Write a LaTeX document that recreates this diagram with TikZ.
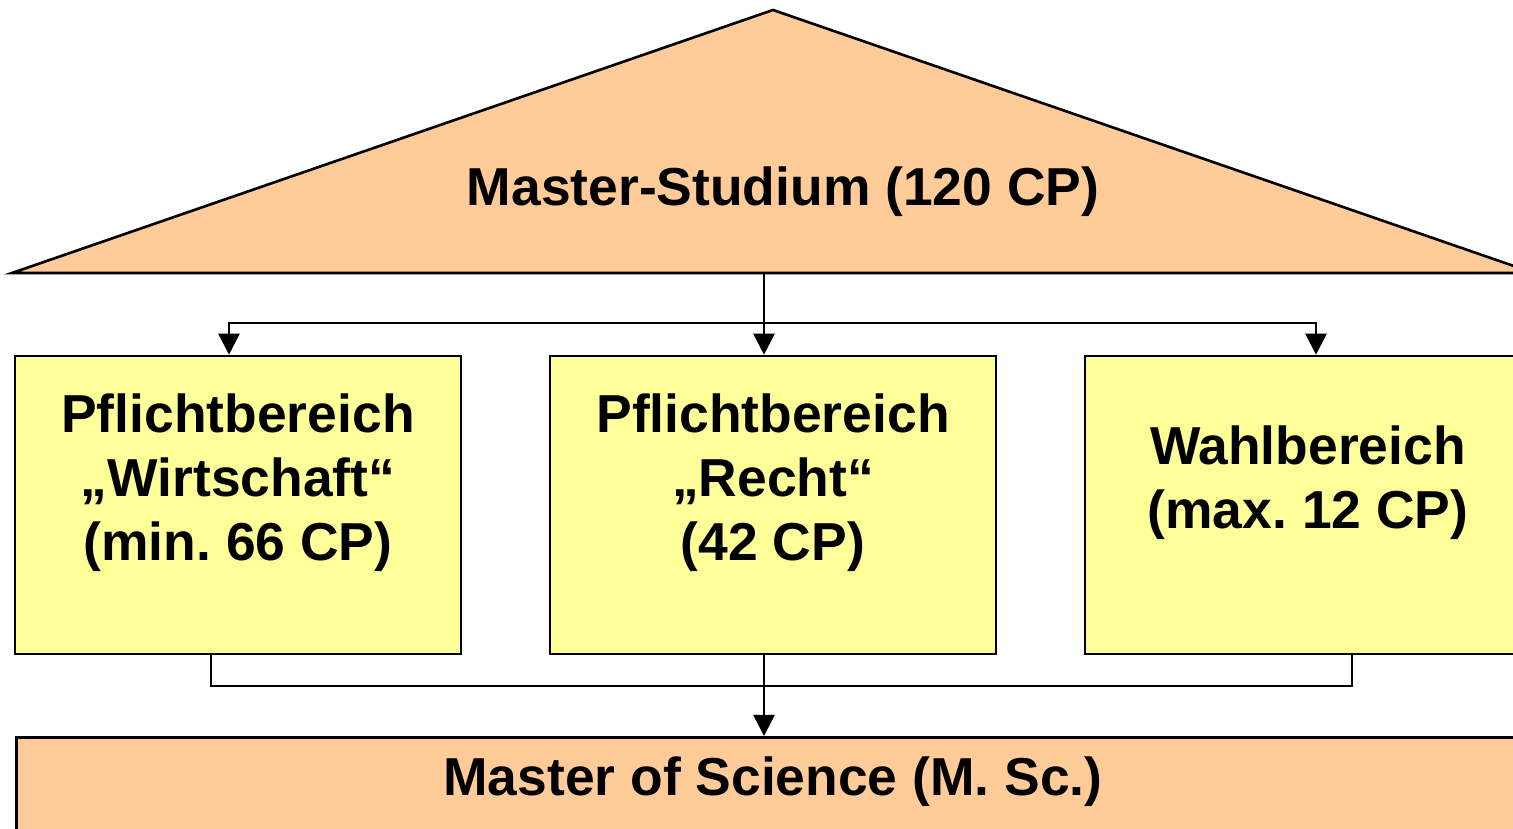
\documentclass[tikz,border=0pt]{standalone}
\usepackage{fontspec}
\setmainfont{Liberation Sans}
\usetikzlibrary{arrows.meta}
\definecolor{pfirsich}{HTML}{FFCC99}
\definecolor{hellgelb}{HTML}{FFFF99}
\tikzset{rahmen/.style={draw=black, line width=0.75pt},
  fachbox/.style={rahmen, fill=hellgelb, minimum width=4.46cm, minimum height=2.98cm, inner sep=0pt},
  beschrift/.style={align=center, font=\fontsize{15.2}{18.2}\selectfont\bfseries\frenchspacing, inner sep=0pt},
  pfeil/.style={line width=0.75pt, -{Triangle[length=6pt,width=6pt]}},
  linie/.style={line width=0.75pt}}

\begin{document}
\begin{tikzpicture}
  \useasboundingbox (0,0) rectangle (15.13,-8.29);
  \clip (0,0) rectangle (15.13,-8.29);
  % Dach
  \draw[rahmen, fill=pfirsich] (0.12,-2.73) -- (7.73,-0.10) -- (15.34,-2.73) -- cycle;
  \node[beschrift] (studium) at (7.83,-1.92) {Master-Studium (120 CP)};
  \coordinate (dach) at (7.64,-2.73);
  \coordinate (verteil) at (7.64,-3.23);
  % Bereiche
  \node[fachbox] (wirt) at ( 2.38,-5.05) {};
  \node[fachbox] (recht) at ( 7.73,-5.05) {};
  \node[fachbox] (wahl) at (13.08,-5.05) {};
  \node[beschrift] (wirttext) at ([yshift=0.22cm]wirt.center) {Pflichtbereich\\„Wirtschaft“\\(min. 66 CP)};
  \node[beschrift] (rechttext) at ([yshift=0.22cm]recht.center) {Pflichtbereich\\„Recht“\\(42 CP)};
  \node[beschrift] (wahltext) at ([yshift=0.22cm]wahl.center) {Wahlbereich\\(max. 12 CP)};
  % Abschluss
  \node[rahmen, fill=pfirsich, minimum width=15.16cm, minimum height=1.04cm, inner sep=0pt, anchor=north west] (abschluss) at (0.15,-7.36) {};
  \node[beschrift] (abschlusstext) at (7.73,-7.82) {Master of Science (M. Sc.)};
  \coordinate (sammel) at (7.64,-6.86);
  % Verbindungen
  \draw[pfeil] (dach) -- ([xshift=-0.09cm]recht.north);
  \draw[pfeil] (verteil) -| ([xshift=-0.09cm]wirt.north);
  \draw[pfeil] (verteil) -| ([xshift=0.08cm]wahl.north);
  \draw[linie] ([xshift=-0.27cm]wirt.south) |- (sammel) -| ([xshift=0.44cm]wahl.south);
  \draw[pfeil] ([xshift=-0.09cm]recht.south) -- (abschluss.north -| sammel);
\end{tikzpicture}
\end{document}
